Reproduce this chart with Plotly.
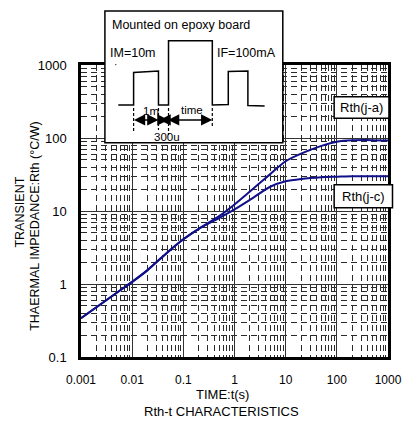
import plotly.graph_objects as go

# ---------------- data ----------------
time_s = [0.001, 0.002, 0.005, 0.01, 0.02, 0.05, 0.1, 0.2, 0.5, 1, 2, 5, 10, 20, 50, 100, 200, 500, 1000]
rth_ja = [0.34, 0.48, 0.76, 1.07, 1.55, 2.75, 4.1, 5.7, 8.5, 12.3, 18.5, 32, 48, 61, 78, 89, 93, 93.5, 92.5]
rth_jc = [0.34, 0.48, 0.76, 1.07, 1.55, 2.75, 4.1, 5.7, 8.0, 10.5, 14.2, 21.5, 25.5, 27.5, 29, 29.5, 30, 30, 30]
x_ticks = [0.001, 0.01, 0.1, 1, 10, 100, 1000]
x_tick_text = ["0.001", "0.01", "0.1", "1", "10", "100", "1000"]
y_ticks = [0.1, 1, 10, 100, 1000]
y_tick_text = ["0.1", "1", "10", "100", "1000"]

W, H = 414, 423
L, R, T, B = 81, 12, 65, 65.5
PW, PH = W - L - R, H - T - B
FONT = "Liberation Sans"
CURVE = "#10108a"


def px(x):
    return (x - L) / PW


def py(y):
    return (H - B - y) / PH


fig = go.Figure()
fig.add_trace(go.Scatter(x=time_s, y=rth_ja, mode="lines", line=dict(color=CURVE, width=2, shape="spline", smoothing=0.8),
                         name="Rth(j-a)", showlegend=False))
fig.add_trace(go.Scatter(x=time_s, y=rth_jc, mode="lines", line=dict(color=CURVE, width=2, shape="spline", smoothing=0.8),
                         name="Rth(j-c)", showlegend=False))

axis_common = dict(
    type="log", showline=True, linecolor="black", linewidth=2.5, mirror=True,
    showgrid=True, gridcolor="#333333", gridwidth=1, ticks="", zeroline=False,
    minor=dict(dtick="D1", showgrid=True, gridcolor="#2a2a2a", gridwidth=1, griddash="6px,4px"),
)

fig.update_xaxes(range=[-3, 3], tickvals=x_ticks, ticktext=x_tick_text,
                 tickfont=dict(family=FONT, size=12, color="black"), ticklabelstandoff=10, **axis_common)
fig.update_yaxes(range=[-1, 3], tickvals=y_ticks, ticktext=y_tick_text,
                 tickfont=dict(family=FONT, size=13, color="black"), ticklabelstandoff=9, **axis_common)

shapes = []
annotations = []

# inset box
shapes.append(dict(type="rect", xref="paper", yref="paper", x0=px(106), x1=px(292), y0=py(143), y1=py(11),
                   line=dict(color="black", width=1.5), fillcolor="white", layer="above"))

# waveform
wave = [(120, 105), (136, 105), (136, 72.5), (162, 71), (162, 105), (172.5, 105), (172.5, 40.7),
        (218.3, 40.7), (218.3, 105), (235, 104.5), (235, 71.5), (255.5, 71), (255.5, 105.5), (273, 106)]
path = "M " + " L ".join(f"{px(a):.5f},{py(b):.5f}" for a, b in wave)
shapes.append(dict(type="path", xref="paper", yref="paper", path=path,
                   line=dict(color="black", width=1.5), layer="above"))

# dashed markers
for xd, y0, y1 in [(136, 108, 132), (162, 108, 130), (172.5, 108, 135), (218.3, 108, 126)]:
    shapes.append(dict(type="line", xref="paper", yref="paper", x0=px(xd), x1=px(xd), y0=py(y0), y1=py(y1),
                       line=dict(color="black", width=1.2, dash="3px,2px"), layer="above"))

# double arrows
for xa, xb in [(136, 162), (162, 172.5), (172.5, 218.3)]:
    annotations.append(dict(xref="paper", yref="paper", x=px(xb), y=py(120), ax=xa - xb, ay=0,
                            axref="pixel", ayref="pixel", text="", showarrow=True, arrowside="end+start",
                            arrowhead=2, arrowsize=1.5, arrowwidth=1.5, arrowcolor="black"))

def text(x, y, s, size=12.5, xanchor="left", angle=0):
    annotations.append(dict(xref="paper", yref="paper", x=px(x), y=py(y), text=s, showarrow=False,
                            xanchor=xanchor, yanchor="middle", textangle=angle,
                            font=dict(family=FONT, size=size, color="black")))

text(111, 25, "Mounted on epoxy board", 12.5)
text(109, 53, "IM=10m", 12.5)
text(221, 53, "IF=100mA", 12.5)
text(113, 64, "·", 10)
text(154, 111, "1m", 11.5, "center")
text(197, 110, "time", 11.5, "center")
text(171, 137, "300u", 11.5, "center")

# curve labels
for x0, x1, y0, y1, s in [(345.7, 403, 96.7, 118.3, "Rth(j-a)"), (345.7, 406.7, 185, 208, "Rth(j-c)")]:
    shapes.append(dict(type="rect", xref="paper", yref="paper", x0=px(x0), x1=px(x1), y0=py(y1), y1=py(y0),
                       line=dict(color="black", width=1.5), fillcolor="white", layer="above"))
    text((x0 + x1) / 2, (y0 + y1) / 2 + 0.5, s, 13, "center")

# axis titles
text(229, 395, "TIME:t(s)", 13, "center")
text(228, 412, "Rth-t CHARACTERISTICS", 13, "center")
text(17, 212, "TRANSIENT", 12.5, "center", -90)
text(33, 227, "THAERMAL IMPEDANCE:Rth (°C/W)", 12.5, "center", -90)

fig.update_layout(
    width=W, height=H, autosize=False,
    margin=dict(l=L, r=R, t=T, b=B, pad=0),
    paper_bgcolor="white", plot_bgcolor="white",
    shapes=shapes, annotations=annotations,
    font=dict(family=FONT, color="black"),
)

fig.write_html("out.html", config={"displayModeBar": False},
               post_script="document.body.style.margin='0';document.body.style.overflow='hidden';")
